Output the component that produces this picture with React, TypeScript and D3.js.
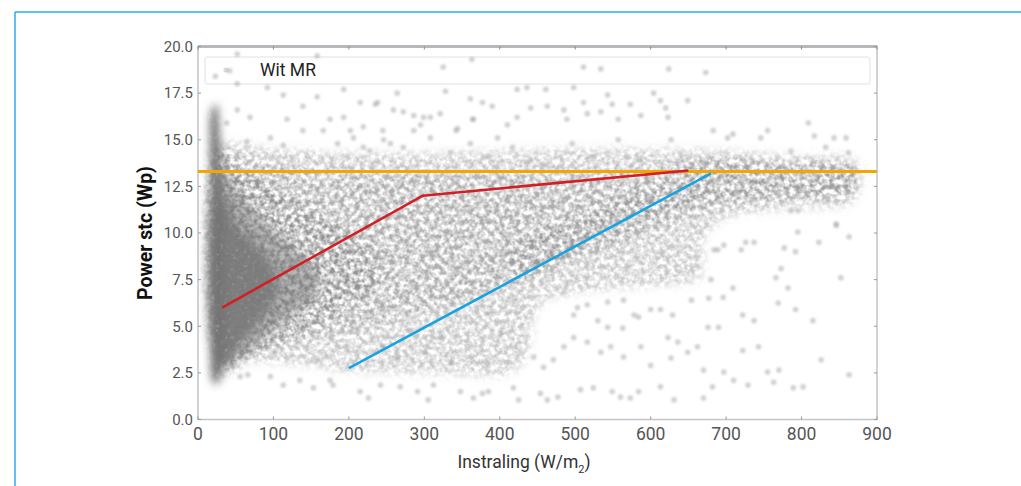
import * as d3 from "d3";

// ── Axes ───────────────────────────────────────────────────
const X_TICKS = [0, 100, 200, 300, 400, 500, 600, 700, 800, 900];
const Y_TICKS = [0, 2.5, 5, 7.5, 10, 12.5, 15, 17.5, 20];

// ── Reference lines ────────────────────────────────────────
const LIMIT_Y = 13.3; // orange: max power
const RED_X = [32, 298, 650];
const RED_Y = [6.0, 12.0, 13.35];
const BLUE_X = [200, 680];
const BLUE_Y = [2.75, 13.2];

// ── Density outlines of the dense part of the cloud (x, y) ──
const FAN: [number, number][] = [
  [30, 14.6], [100, 14.5], [200, 14.3], [300, 14.3], [400, 14.4], [500, 14.5],
  [600, 14.5], [700, 14.4], [800, 14.1], [872, 13.9], [874, 12.0], [860, 11.5],
  [780, 11.3], [700, 10.8], [672, 9.8], [665, 7.6], [600, 7.2], [520, 6.9],
  [455, 6.2], [436, 3.6], [420, 2.6], [300, 2.5], [200, 2.6], [120, 3.0],
  [60, 3.0], [30, 2.3],
];
const MID: [number, number][] = [
  [40, 13.2], [200, 13.2], [400, 13.1], [560, 13.4], [700, 13.7], [800, 13.6],
  [870, 13.4], [870, 12.2], [800, 11.9], [700, 11.5], [620, 10.4], [520, 8.8],
  [420, 7.2], [320, 6.0], [220, 5.0], [130, 4.4], [40, 3.8],
];
const STREAK: [number, number][] = [
  [420, 7.8], [520, 9.3], [600, 10.8], [665, 12.0], [640, 12.7], [560, 11.8],
  [480, 10.6], [410, 9.2],
];
const BAND: [number, number][] = [
  [640, 13.8], [760, 13.8], [870, 13.5], [870, 12.3], [760, 12.1], [660, 12.0],
];
const HALO: [number, number][] = [
  [22, 14.8], [50, 14.0], [100, 12.6], [160, 10.9], [220, 9.4], [245, 8.0],
  [220, 6.6], [170, 5.4], [120, 4.3], [70, 3.4], [35, 2.6],
];
const CORE: [number, number][] = [
  [22, 14.0], [40, 13.0], [70, 11.5], [110, 9.8], [145, 8.6], [162, 7.5],
  [150, 6.5], [120, 5.4], [90, 4.4], [60, 3.4], [30, 2.7],
];
const INNER: [number, number][] = [
  [22, 13.0], [35, 12.0], [45, 11.0], [60, 10.0], [85, 9.0], [100, 8.0], [105, 7.0],
  [95, 6.0], [75, 5.0], [55, 4.0], [35, 3.0], [22, 3.0],
];
const SPINE: [number, number][] = [
  [18, 16.6], [24, 16.9], [29, 15.2], [33, 11], [36, 5], [32, 2.6],
  [24, 1.85], [19, 2.1], [17.5, 6], [17.5, 12],
];

// ── Individual dots ────────────────────────────────────────
const DOTS_ABOVE: [number, number][] = [
  [42, 18.7], [23, 18.4], [52, 18.0], [92, 17.8], [139, 16.8], [158, 17.3], [193, 17.7],
  [215, 17.0], [238, 17.0], [264, 17.5], [272, 16.5], [118, 16.1], [69, 16.2], [52, 16.6],
  [38, 15.9], [139, 15.5], [166, 15.5], [175, 16.1], [202, 15.5], [219, 15.7], [245, 15.5],
  [96, 15.1], [113, 14.7], [65, 14.9], [185, 14.8], [219, 14.6], [255, 14.8], [286, 15.5],
  [299, 16.2], [113, 17.4], [193, 16.2], [52, 19.6], [158, 19.5],
  [328, 17.6], [361, 17.2], [377, 17.0], [390, 16.8], [423, 17.7], [436, 17.8], [461, 17.7],
  [498, 17.8], [441, 16.7], [463, 16.8], [485, 16.6], [511, 17.0], [534, 16.5], [543, 17.4],
  [549, 16.9], [573, 16.9], [604, 17.5], [613, 17.1], [620, 16.7], [649, 17.1], [623, 16.2],
  [587, 16.3], [557, 16.1], [516, 16.4], [489, 16.1], [423, 16.2], [364, 16.1], [342, 15.5],
  [308, 16.2], [809, 15.9], [755, 15.5], [817, 15.2], [843, 15.1], [859, 15.1], [746, 15.1],
  [683, 15.5], [702, 15.1], [832, 14.6], [673, 18.6], [511, 18.9], [534, 18.8], [363, 19.3],
  [325, 18.9], [624, 18.8],
  [235, 16.9], [259, 16.6], [286, 16.3], [295, 15.8], [321, 16.4], [344, 15.6], [365, 16.1],
  [410, 15.8], [206, 15.1], [228, 14.4], [246, 15.0], [272, 14.6], [308, 15.1], [335, 14.3],
  [361, 14.8], [384, 14.1], [417, 14.6], [441, 13.9], [198, 14.1], [397, 15.1],
  [709, 15.3], [786, 14.4], [862, 14.3], [496, 14.8], [557, 15.0], [627, 15.0], [458, 13.7],
  [524, 14.1], [584, 13.9], [640, 14.1], [671, 13.7],
];
const DOTS_BELOW: [number, number][] = [
  [113, 1.85], [135, 2.1], [153, 1.7], [175, 2.1], [179, 1.85], [56, 2.3], [96, 2.3],
  [215, 1.5], [226, 1.15], [242, 1.85], [268, 1.75], [291, 1.5], [305, 1.05], [66, 2.4],
  [312, 1.85], [348, 1.5], [365, 1.15], [377, 1.4], [385, 1.5], [418, 1.7], [425, 1.05],
  [454, 1.4], [463, 1.05], [477, 1.2], [507, 1.6], [524, 1.7], [549, 1.5], [560, 1.2],
  [573, 1.15], [584, 1.5], [613, 1.75], [631, 1.05], [670, 1.15], [682, 1.75], [710, 2.1],
  [729, 1.85], [763, 2.0], [789, 1.7], [802, 1.75], [863, 2.4], [826, 3.2], [770, 2.65],
  [755, 2.55], [743, 3.9], [722, 3.7], [697, 2.55], [670, 2.65], [649, 3.6], [627, 3.3],
  [600, 2.9], [587, 3.9], [564, 3.35], [547, 3.9], [534, 3.6], [516, 4.15], [498, 4.4],
  [485, 3.9], [471, 3.2], [458, 2.8], [445, 3.35], [530, 5.3], [543, 4.95], [563, 4.9],
  [578, 5.6], [613, 5.9], [623, 4.4], [636, 4.15], [662, 3.9], [676, 4.95], [690, 4.95],
  [696, 6.55], [677, 6.5], [654, 6.4], [629, 5.6], [600, 5.9], [584, 5.5], [564, 6.4],
  [543, 6.3], [516, 6.15], [498, 5.6], [485, 6.85], [503, 6.0], [680, 7.5], [709, 7.05],
  [722, 5.6], [737, 5.3], [769, 6.25], [782, 7.05], [792, 5.9], [815, 5.3], [852, 7.6],
  [773, 8.1], [766, 7.6], [737, 9.5], [720, 9.1], [697, 9.35], [684, 9.1], [777, 9.2],
  [792, 9.0], [795, 10.05], [823, 9.5], [846, 10.4], [863, 9.8], [726, 9.5], [795, 11.2],
  [846, 10.5], [689, 9.1],
];
const DOTS_INSIDE: [number, number][] = [
  [485, 11.8], [551, 11.1], [573, 10.5], [530, 10.0], [507, 9.6], [598, 11.8], [627, 12.1],
  [653, 12.7], [689, 12.8], [467, 8.7], [491, 8.9], [693, 13.0], [724, 13.9], [755, 12.8],
  [776, 13.5], [797, 12.3], [819, 13.0], [841, 12.5], [865, 12.8], [870, 13.2], [710, 12.1],
  [737, 11.8], [769, 12.0], [835, 11.8], [786, 11.2], [852, 13.4],
  [215, 12.5], [246, 11.8], [268, 10.9], [224, 10.3], [202, 9.1], [242, 8.6], [277, 9.6],
  [304, 8.9], [330, 10.0], [357, 11.2], [384, 10.7], [410, 11.8], [427, 9.6], [388, 8.6],
  [339, 7.9], [308, 7.1], [445, 8.2], [232, 7.3], [286, 12.7], [344, 12.7], [401, 12.9],
  [122, 8.4], [158, 6.4], [185, 7.1], [219, 6.6], [246, 6.0], [286, 7.1], [139, 4.8],
  [175, 4.4], [211, 4.8], [246, 3.9], [281, 4.8], [299, 3.6], [100, 3.6], [158, 3.2],
  [198, 2.8], [264, 3.2], [317, 8.9], [361, 8.0], [405, 8.9], [339, 6.2], [384, 5.7],
  [418, 6.4], [321, 4.4], [361, 3.9], [401, 4.6], [427, 3.6], [335, 3.0], [384, 3.0],
  [414, 9.8],
];

const W = 1021;
const H = 486;
const x = d3.scaleLinear().domain([0, 900]).range([198, 877]);
const y = d3.scaleLinear().domain([0, 20]).range([419.5, 46.5]);

const FONT = "Roboto, 'Noto Sans', sans-serif";

const blob = (pts: [number, number][]) =>
  d3
    .line<[number, number]>()
    .x((d) => x(d[0]))
    .y((d) => y(d[1]))
    .curve(d3.curveCatmullRomClosed.alpha(0.5))(pts) ?? "";

const polyline = (xs: number[], ys: number[]) =>
  d3
    .line<number>()
    .x((d) => x(d))
    .y((_, i) => y(ys[i]))(xs) ?? "";

export default function App() {
  const [x0, x1] = x.range();
  const [y0, y1] = y.range(); // y0 bottom, y1 top

  const dots = [...DOTS_ABOVE, ...DOTS_BELOW, ...DOTS_INSIDE];

  return (
    <div style={{ position: "absolute", left: 0, top: 0 }}>
      <svg width={W} height={H} style={{ display: "block", background: "#fff" }}>
        <defs>
          <clipPath id="plotClip">
            <rect x={x0} y={y1} width={x1 - x0} height={y0 - y1} />
          </clipPath>
          {/* grainy cloud: blurred outline masked by noise */}
          <filter id="mottle" filterUnits="userSpaceOnUse" x={x0} y={y1} width={x1 - x0} height={y0 - y1}>
            <feTurbulence type="fractalNoise" baseFrequency={0.2} numOctaves={2} seed={7} result="noise" />
            <feColorMatrix
              in="noise"
              type="matrix"
              values="0 0 0 0 0  0 0 0 0 0  0 0 0 0 0  2.4 0 0 0 -0.7"
              result="mask"
            />
            <feGaussianBlur in="SourceGraphic" stdDeviation={5} result="soft" />
            <feComposite in="soft" in2="mask" operator="in" />
          </filter>
          <filter id="mottleCore" filterUnits="userSpaceOnUse" x={x0} y={y1} width={x1 - x0} height={y0 - y1}>
            <feTurbulence type="fractalNoise" baseFrequency={0.25} numOctaves={2} seed={3} result="noise" />
            <feColorMatrix
              in="noise"
              type="matrix"
              values="0 0 0 0 0  0 0 0 0 0  0 0 0 0 0  0.8 0 0 0 0.65"
              result="mask"
            />
            <feGaussianBlur in="SourceGraphic" stdDeviation={4} result="soft" />
            <feComposite in="soft" in2="mask" operator="in" />
          </filter>
          <filter id="dotBlur" x="-50%" y="-50%" width="200%" height="200%">
            <feGaussianBlur stdDeviation={0.8} />
          </filter>
        </defs>

        {/* page frame */}
        <line x1={15} x2={W} y1={12} y2={12} stroke="#2aaee8" strokeWidth={1.5} />
        <line x1={15} x2={15} y1={12} y2={H} stroke="#2aaee8" strokeWidth={1.5} />

        {/* plot frame */}
        <rect x={x0} y={y1} width={x1 - x0} height={y0 - y1} fill="#fff" stroke="#c4c4c8" strokeWidth={1.5} />
        <line x1={x0} x2={x1} y1={y1} y2={y1} stroke="#b8b8bc" strokeWidth={3} />

        {/* legend box */}
        <rect x={205} y={57} width={665} height={27} rx={3} fill="#fff" stroke="#ececec" strokeWidth={1.5} />

        <g clipPath="url(#plotClip)">
          {/* density cloud */}
          <g filter="url(#mottle)">
            <path d={blob(FAN)} fill="#7a7a7a" fillOpacity={0.42} />
            <path d={blob(MID)} fill="#7a7a7a" fillOpacity={0.32} />
            <path d={blob(STREAK)} fill="#7a7a7a" fillOpacity={0.35} />
            <path d={blob(BAND)} fill="#7a7a7a" fillOpacity={0.3} />
            <path d={blob(HALO)} fill="#7a7a7a" fillOpacity={0.5} />
          </g>
          <g filter="url(#mottleCore)">
            <path d={blob(CORE)} fill="#7a7a7a" fillOpacity={0.55} />
            <path d={blob(INNER)} fill="#7a7a7a" fillOpacity={0.9} />
            <path d={blob(SPINE)} fill="#737373" fillOpacity={1} />
          </g>
          {/* single measurements */}
          <g filter="url(#dotBlur)">
            {dots.map((d, i) => (
              <circle key={i} cx={x(d[0])} cy={y(d[1])} r={2.8} fill="#999" fillOpacity={0.45} />
            ))}
          </g>

          {/* reference lines */}
          <line x1={x0} x2={x1} y1={y(LIMIT_Y)} y2={y(LIMIT_Y)} stroke="#f6a400" strokeWidth={3} />
          <path d={polyline(RED_X, RED_Y)} fill="none" stroke="#d21f26" strokeWidth={2.6} />
          <path d={polyline(BLUE_X, BLUE_Y)} fill="none" stroke="#18a3e0" strokeWidth={2.6} />
        </g>

        {/* ticks */}
        {Y_TICKS.map((t) => (
          <g key={`y${t}`}>
            <line x1={x0} x2={x0 + 3} y1={y(t)} y2={y(t)} stroke="#999" />
            <line x1={x1 - 3} x2={x1} y1={y(t)} y2={y(t)} stroke="#999" />
            <text x={x0 - 5} y={y(t)} dy="0.35em" textAnchor="end" fontSize={15} fill="#555" fontFamily={FONT}>
              {t.toFixed(1)}
            </text>
          </g>
        ))}
        {X_TICKS.map((t) => (
          <g key={`x${t}`}>
            <line x1={x(t)} x2={x(t)} y1={y0} y2={y0 - 3} stroke="#999" />
            <line x1={x(t)} x2={x(t)} y1={y1} y2={y1 + 3} stroke="#888" />
            <text x={x(t)} y={y0 + 20} textAnchor="middle" fontSize={17.5} fill="#555" fontFamily={FONT}>
              {t}
            </text>
          </g>
        ))}

        {/* legend */}
        <circle cx={226} cy={70} r={2.6} fill="#999" fillOpacity={0.35} />
        <text x={260} y={76} fontSize={17.5} fill="#222" fontFamily={FONT}>
          Wit MR
        </text>

        {/* axis titles */}
        <text
          transform={`translate(152, ${(y0 + y1) / 2}) rotate(-90)`}
          textAnchor="middle"
          fontSize={19.5}
          fontWeight={700}
          fill="#111"
          fontFamily={FONT}
        >
          Power stc (Wp)
        </text>
        <text x={524} y={468} textAnchor="middle" fontSize={17.5} fill="#333" fontFamily={FONT}>
          Instraling (W/m
          <tspan fontSize={11} dy={5}>2</tspan>
          <tspan dy={-5}>)</tspan>
        </text>
      </svg>
    </div>
  );
}
